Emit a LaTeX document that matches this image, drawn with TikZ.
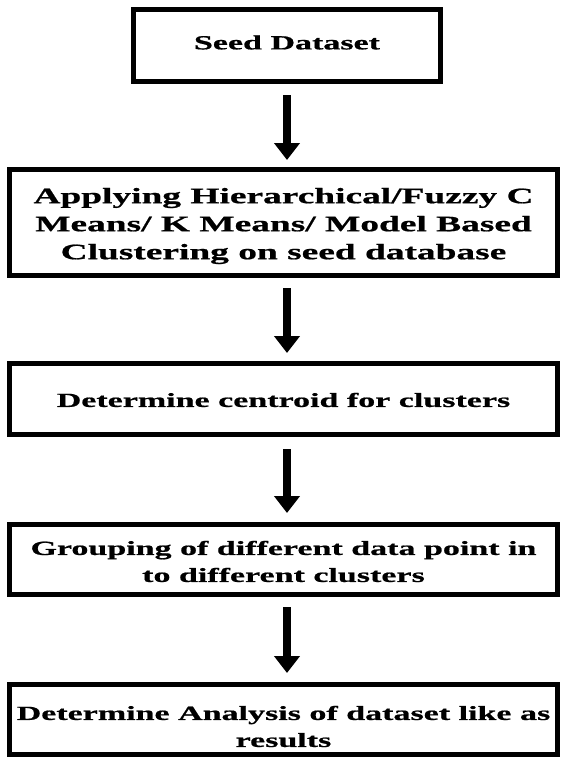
\documentclass[tikz,border=0pt]{standalone}
\usepackage{fontspec}
\newfontfamily\boxfont[FakeStretch=1.7, BoldFeatures={FakeBold=0.8}]{Liberation Serif}
\usetikzlibrary{arrows.meta}
\tikzset{
  stepbox/.style={draw=black, line width=5pt, fill=white, inner sep=0pt},
  steptext/.style={inner sep=0pt, align=center, font=\boxfont\bfseries\fontsize{20}{27}\selectfont},
  bigtext/.style={steptext, font=\boxfont\bfseries\fontsize{22}{28}\selectfont},
  flowarrow/.style={line width=8pt, -{Triangle[width=25pt,length=17pt]}}
}
\begin{document}
\begin{tikzpicture}[x=1pt,y=1pt]
\useasboundingbox (0,0) rectangle (561,-758);
\node[stepbox, minimum width=307pt, minimum height=72pt] (b1) at (287,-45.5) {};
\node[stepbox, minimum width=548pt, minimum height=106pt] (b2) at (283.5,-222.5) {};
\node[stepbox, minimum width=548pt, minimum height=71pt] (b3) at (283.5,-399) {};
\node[stepbox, minimum width=548pt, minimum height=70pt] (b4) at (283.5,-559.5) {};
\node[stepbox, minimum width=548pt, minimum height=70pt] (b5) at (283.5,-719.5) {};
\node[steptext, yshift=3pt] (t1) at (b1.center) {Seed Dataset};
\node[bigtext, yshift=-3.5pt] (t2) at (b2.center)
  {Applying Hierarchical/Fuzzy C\\Means/ K Means/ Model Based\\Clustering on seed database};
\node[steptext, yshift=-1pt] (t3) at (b3.center) {Determine centroid for clusters};
\node[steptext, yshift=-2pt] (t4) at (b4.center)
  {Grouping of different data point in\\to different clusters};
\node[steptext, yshift=-7pt] (t5) at (b5.center)
  {Determine Analysis of dataset like as\\results};
\draw[flowarrow, shorten <=11pt, shorten >=7pt] (b1.south) -- (b1.south |- b2.north);
\draw[flowarrow, shorten <=10pt, shorten >=8pt] (b1.south |- b2.south) -- (b1.south |- b3.north);
\draw[flowarrow, shorten <=12pt, shorten >=9pt] (b1.south |- b3.south) -- (b1.south |- b4.north);
\draw[flowarrow, shorten <=10pt, shorten >=9pt] (b1.south |- b4.south) -- (b1.south |- b5.north);
\end{tikzpicture}
\end{document}
